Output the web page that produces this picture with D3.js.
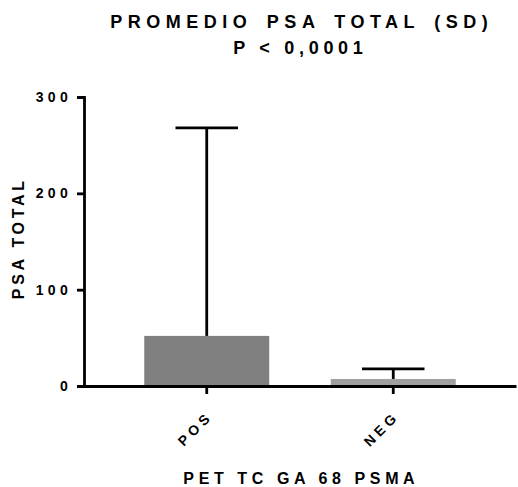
<!DOCTYPE html>
<html>
<head>
<meta charset="utf-8">
<script src="https://cdn.jsdelivr.net/npm/d3@7"></script>
<style>
  body { margin: 0; background: #fff; }
  text { font-family: "Liberation Sans", Arial, sans-serif; font-weight: bold; fill: #000; }
</style>
</head>
<body>
<div id="my_dataviz"></div>
<script>
// data
var groups = ["POS", "NEG"];
var means = [52, 7.3];
var sds = [216, 10.5];
var barColors = ["#808080", "#a0a0a0"];
var yTicks = [0, 100, 200, 300];

// set the dimensions and margins of the graph
var margin = {top: 97, right: 2, bottom: 101, left: 84},
    width = 518 - margin.left - margin.right,
    height = 487 - margin.top - margin.bottom;

var svg = d3.select("#my_dataviz")
    .append("svg")
    .attr("width", 518)
    .attr("height", 487);

var g = svg.append("g")
    .attr("transform", "translate(" + margin.left + "," + margin.top + ")");

// scales
var x = d3.scaleBand()
    .domain(groups)
    .range([0, width])
    .paddingInner(0.33)
    .paddingOuter(0.323);

var y = d3.scaleLinear()
    .domain([0, 300])
    .range([height, 0]);

// bars
g.selectAll("rect.bar")
    .data(groups)
    .enter()
    .append("rect")
    .attr("class", "bar")
    .attr("x", function(d) { return x(d); })
    .attr("y", function(d, i) { return y(means[i]); })
    .attr("width", x.bandwidth())
    .attr("height", function(d, i) { return height - y(means[i]); })
    .attr("fill", function(d, i) { return barColors[i]; });

// error bars (upper only)
var err = g.selectAll("g.err")
    .data(groups)
    .enter()
    .append("g")
    .attr("class", "err");

err.append("line")
    .attr("x1", function(d) { return x(d) + x.bandwidth() / 2; })
    .attr("x2", function(d) { return x(d) + x.bandwidth() / 2; })
    .attr("y1", function(d, i) { return y(means[i]); })
    .attr("y2", function(d, i) { return y(means[i] + sds[i]); })
    .attr("stroke", "#000")
    .attr("stroke-width", 2.8);

err.append("line")
    .attr("x1", function(d) { return x(d) + x.bandwidth() / 4; })
    .attr("x2", function(d) { return x(d) + x.bandwidth() * 3 / 4; })
    .attr("y1", function(d, i) { return y(means[i] + sds[i]); })
    .attr("y2", function(d, i) { return y(means[i] + sds[i]); })
    .attr("stroke", "#000")
    .attr("stroke-width", 2.8);

// Y axis
var yAxis = g.append("g")
    .call(d3.axisLeft(y).tickValues(yTicks).tickSize(7).tickPadding(5));
yAxis.select(".domain").attr("stroke-width", 2.8);
yAxis.selectAll(".tick line").attr("stroke-width", 2.8);
yAxis.selectAll(".tick text")
    .style("font-size", "14px")
    .style("letter-spacing", "4.3px");

// X axis
var xAxis = g.append("g")
    .attr("transform", "translate(0," + height + ")")
    .call(d3.axisBottom(x).tickSize(8).tickSizeOuter(0));
xAxis.select(".domain").attr("stroke-width", 2.8);
xAxis.selectAll(".tick line").attr("stroke-width", 2.8);
xAxis.selectAll(".tick text")
    .style("font-size", "14px")
    .style("letter-spacing", "4.3px")
    .attr("text-anchor", "end")
    .attr("x", 0)
    .attr("y", 0)
    .attr("dy", 0)
    .attr("transform", "translate(7,31) rotate(-45)");

// axis titles
svg.append("text")
    .attr("x", 299 + 2.3)
    .attr("y", 484)
    .attr("text-anchor", "middle")
    .style("font-size", "16px")
    .style("letter-spacing", "4.6px")
    .text("PET TC GA 68 PSMA");

svg.append("text")
    .attr("transform", "translate(24," + (240 - 1.8) + ") rotate(-90)")
    .attr("text-anchor", "middle")
    .style("font-size", "16px")
    .style("letter-spacing", "3.7px")
    .text("PSA TOTAL");

// title
svg.append("text")
    .attr("x", 299 + 2.8)
    .attr("y", 28)
    .attr("text-anchor", "middle")
    .style("font-size", "18px")
    .style("letter-spacing", "5.5px")
    .style("word-spacing", "4px")
    .text("PROMEDIO PSA TOTAL (SD)");

svg.append("text")
    .attr("x", 298 + 2.4)
    .attr("y", 54)
    .attr("text-anchor", "middle")
    .style("font-size", "18px")
    .style("letter-spacing", "4.7px")
    .text("P < 0,0001");
</script>
</body>
</html>
